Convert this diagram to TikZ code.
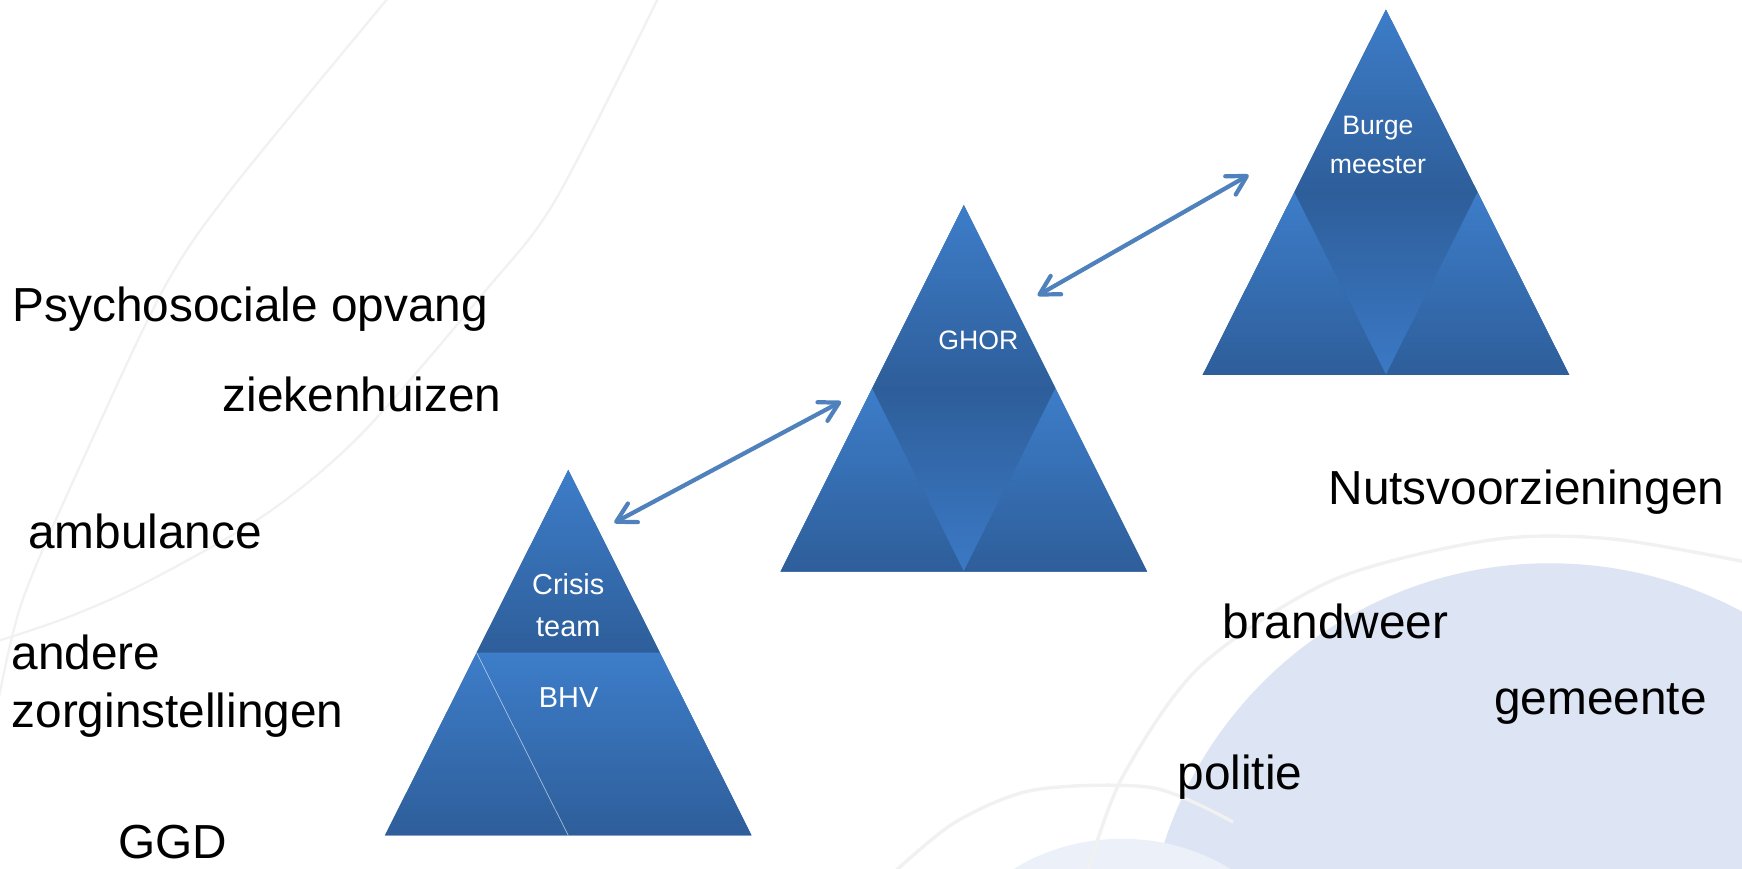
\documentclass[tikz,border=0pt]{standalone}
\usepackage{fontspec}
\setmainfont{Liberation Sans}
\usetikzlibrary{arrows.meta}
\definecolor{pyrlight}{RGB}{61,125,201}
\definecolor{pyrdark}{RGB}{46,94,154}
\definecolor{pyrmid}{RGB}{59,121,197}
\definecolor{linkblue}{RGB}{79,129,189}
\definecolor{bgblue}{RGB}{221,228,243}
\definecolor{bgline}{RGB}{241,241,241}
\tikzstyle{fadedown}=[top color=pyrlight, bottom color=pyrdark]
\tikzstyle{diamond fade}=[top color=pyrlight, bottom color=pyrmid, middle color=pyrdark]
\tikzstyle{seam}=[white, opacity=0.6, line width=0.3pt]
\tikzstyle{party}=[anchor=base west, inner sep=0pt, font=\fontsize{21.5}{25}\selectfont]
\tikzstyle{tritext}=[anchor=base, inner sep=0pt, white, font=\fontsize{12}{14}\selectfont]
\tikzstyle{link}=[linkblue, line width=1.9pt, {Straight Barb[round, length=8.5pt, width=9.5pt]}-{Straight Barb[round, length=8.5pt, width=9.5pt]}]

\begin{document}
\begin{tikzpicture}[x=0.5pt, y=-0.5pt]
\useasboundingbox (0,0) rectangle (1568,781.3);
\clip (0,0) rectangle (1568,781.3);
% Background
    \fill[white] (0,0) rectangle (1568,781.3);
    \fill[bgblue] (1395,872) circle (365);
    \fill[bgblue!55] (1010,905) ellipse (170 and 150);
    \draw[bgline, line width=1pt] plot[smooth] coordinates {(352,-5) (210,168) (150,255) (85,391) (20,541) (-5,650)};
    \draw[bgline, line width=1pt] plot[smooth] coordinates {(594,-5) (500,180) (435,264) (325,391) (239,463) (130,525) (60,556) (-5,578)};
    \draw[bgline, line width=1.5pt] plot[smooth] coordinates {(979,785) (1010,700) (1080,600) (1200,522) (1342,486) (1450,485) (1572,506)};
    \draw[bgline, line width=1.5pt] plot[smooth] coordinates {(805,785) (860,740) (931,711) (1037,709) (1110,740)};
% Crisis team pyramid
    \fill[pyrdark] (511.5,423) -- (676.5,752) -- (346.5,752) -- cycle;
    \shade[fadedown] (511.5,423) -- (594,587.5) -- (429,587.5) -- cycle;
    \shade[fadedown] (429,587.5) -- (511.5,752) -- (346.5,752) -- cycle;
    \shade[fadedown] (429,587.5) -- (594,587.5) -- (676.5,752) -- (511.5,752) -- cycle;
    \draw[seam] (429,587.5) -- (511.5,752);
% GHOR pyramid
    \fill[pyrdark] (867.5,184.5) -- (1032.5,514.5) -- (702.5,514.5) -- cycle;
    \shade[diamond fade] (867.5,184.5) -- (950,349.5) -- (867.5,514.5) -- (785,349.5) -- cycle;
    \shade[fadedown] (785,349.5) -- (867.5,514.5) -- (702.5,514.5) -- cycle;
    \shade[fadedown] (950,349.5) -- (1032.5,514.5) -- (867.5,514.5) -- cycle;
% Burgemeester pyramid
    \fill[pyrdark] (1247.5,8.5) -- (1412.5,337.5) -- (1082.5,337.5) -- cycle;
    \shade[diamond fade] (1247.5,8.5) -- (1330,173) -- (1247.5,337.5) -- (1165,173) -- cycle;
    \shade[fadedown] (1165,173) -- (1247.5,337.5) -- (1082.5,337.5) -- cycle;
    \shade[fadedown] (1330,173) -- (1412.5,337.5) -- (1247.5,337.5) -- cycle;
% Texts in the pyramids
    \node[tritext, font=\fontsize{13}{15}\selectfont] (crisis) at (511.5,535.5) {Crisis};
    \node[tritext, font=\fontsize{13}{15}\selectfont] (team) at (511.5,572.7) {team};
    \node[tritext, font=\fontsize{13}{15}\selectfont] (bhv) at (511.8,636.6) {BHV};
    \node[tritext] (ghor) at (880.7,314.4) {GHOR};
    \node[tritext] (burge) at (1240.3,121) {Burge};
    \node[tritext] (meester) at (1240.3,156.6) {meester};
% Partners
    \node[party] (psycho) at (11,289.5) {Psychosociale opvang};
    \node[party] (zieken) at (200,370.5) {ziekenhuizen};
    \node[party] (ambu) at (25,494) {ambulance};
    \node[party] (andere) at (10,603) {andere};
    \node[party] (zorg) at (10,654.6) {zorginstellingen};
    \node[party] (ggd) at (106,773) {GGD};
    \node[party] (nuts) at (1195.5,454.5) {Nutsvoorzieningen};
    \node[party] (brand) at (1100,575) {brandweer};
    \node[party] (gemeente) at (1344.5,643.5) {gemeente};
    \node[party] (politie) at (1059.5,711) {politie};
% Links between the pyramids
    \coordinate (crisisTip) at (553,470.5);
    \coordinate (ghorTipL) at (757,361.5);
    \coordinate (ghorTipR) at (934,266);
    \coordinate (burgTip) at (1124,157.5);
    \draw[link] (crisisTip) -- (ghorTipL);
    \draw[link] (ghorTipR) -- (burgTip);
\end{tikzpicture}
\end{document}
